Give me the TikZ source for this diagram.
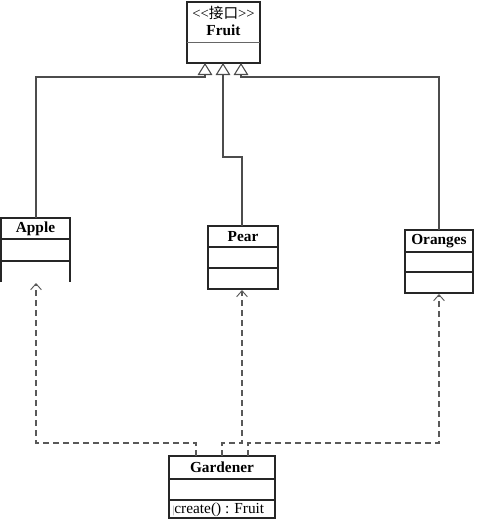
\documentclass[tikz,border=0pt]{standalone}
\usepackage{fontspec}
\setmainfont{Liberation Serif}
\newfontfamily\cjk{Noto Sans CJK SC}
\usetikzlibrary{arrows.meta}
\begin{document}
\begin{tikzpicture}[x=0.75pt,y=-0.75pt,
  box/.style={draw=black!85, line width=0.9pt},
  title/.style={font=\fontsize{11.5}{13}\selectfont\bfseries, inner sep=0pt},
  op/.style={font=\fontsize{11.5}{13}\selectfont, inner sep=0pt, anchor=west},
  gen/.style={draw=black!70, line width=0.9pt, -{Triangle[open, length=9pt, width=11pt, line width=0.8pt]}},
  dep/.style={draw=black!65, line width=0.9pt, dash pattern=on 4.5pt off 3pt, -{Straight Barb[length=4.5pt, width=8pt, line width=0.7pt]}}]
\useasboundingbox (0,0) rectangle (478,522);
\fill[white] (0,0) rectangle (478,522);

% Fruit interface
\draw[box] (187,2) rectangle (260,63);
\draw[box, line width=0.6pt, draw=black!60] (187,42) -- (260,42);
\node[inner sep=0pt, font=\fontsize{11}{13}\selectfont] (stereo) at (223.5,13) {{<}{<}{\cjk 接口}{>}{>}};
\node[title] (fruit) at (223.5,30) {Fruit};
\coordinate (f1) at (205,63);
\coordinate (f2) at (223,63);
\coordinate (f3) at (241,63);

% Apple (open bottom)
\draw[box] (1,282) -- (1,218) -- (70,218) -- (70,282);
\draw[box] (1,239) -- (70,239) (1,261) -- (70,261);
\node[title] (apple) at (35.5,229) {Apple};
\coordinate (appleTop) at (36,218);
\coordinate (appleBot) at (36,283);

% Pear
\draw[box] (208,226) rectangle (278,289);
\draw[box] (208,247) -- (278,247) (208,268) -- (278,268);
\node[title] (pear) at (243,237) {Pear};
\coordinate (pearTop) at (242,226);
\coordinate (pearBot) at (242,290);

% Oranges
\draw[box] (405,230) rectangle (473,293);
\draw[box] (405,252) -- (473,252) (405,272) -- (473,272);
\node[title] (oranges) at (439,241) {Oranges};
\coordinate (orTop) at (439,230);
\coordinate (orBot) at (439,294);

% Gardener
\draw[box] (169,456) rectangle (275,518);
\draw[box] (169,479) -- (275,479) (169,500) -- (275,500);
\node[title] (gardener) at (222,467) {Gardener};
\node[op] (create) at (172,509.5) {{\color{black!45}\fontsize{8}{9}\selectfont|}create() : Fruit};
\coordinate (g1) at (196,456);
\coordinate (g2) at (222,456);
\coordinate (g3) at (248,456);

% generalizations
\draw[gen] (appleTop) |- (205,77) -- (f1);
\draw[gen] (pearTop) |- (223,157) -- (f2);
\draw[gen] (orTop) |- (241,77) -- (f3);

% dependencies
\draw[dep] (g1) |- (36,443) -- (appleBot);
\draw[dep] (g2) |- (242,443) -- (pearBot);
\draw[dep] (g3) |- (439,443) -- (orBot);
\end{tikzpicture}
\end{document}
